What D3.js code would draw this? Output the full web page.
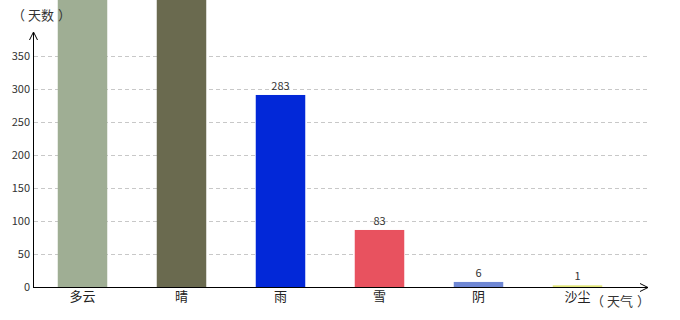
<!DOCTYPE html>
<html lang="zh">
<head>
<meta charset="UTF-8">
<title>天气天数</title>
<script src="https://cdn.jsdelivr.net/npm/d3@7"></script>
<style>
    body { margin: 0; background: #fff; }
    svg { display: block; font-family: "Noto Sans CJK SC", "DejaVu Sans", sans-serif; }
    .grid line { stroke: #c8c8c8; stroke-dasharray: 4,3; }
    .tick-label { font-size: 11px; fill: #333; }
</style>
</head>
<body>
<div id="chart"></div>
<script>
// weather categories and day counts (first two run off the top of the plot)
var categories = ['多云', '晴', '雨', '雪', '阴', '沙尘'];
var days = [1050, 980, 283, 83, 6, 1];
var barColors = ['#9fae94', '#6a6a4f', '#0228d8', '#e8525f', '#6f87d4', '#e2e67a'];
var yTicks = [0, 50, 100, 150, 200, 250, 300, 350];

var width = 680, height = 320;
var left = 33, bottom = 287, right = 648;

var svg = d3.select('#chart').append('svg')
    .attr('width', width)
    .attr('height', height);

var x = d3.scaleBand()
    .domain(categories)
    .range([left, left + 6 * 99])
    .paddingInner(0.5)
    .paddingOuter(0.25);

var y = d3.scaleLinear()
    .domain([0, 350])
    .range([bottom, 56]);

// the original draws bars a touch taller than its grid
var yBar = d3.scaleLinear()
    .domain([0, 350])
    .range([bottom - 1, bottom - 1 - 350 * 0.675]);

// grid lines
svg.append('g').attr('class', 'grid')
    .selectAll('line').data(yTicks.slice(1)).join('line')
    .attr('x1', left + 1).attr('x2', right)
    .attr('y1', d => y(d) + 0.5).attr('y2', d => y(d) + 0.5);

// y tick labels
svg.append('g').selectAll('text').data(yTicks).join('text')
    .attr('class', 'tick-label')
    .attr('x', left - 3)
    .attr('y', d => y(d))
    .attr('dy', '0.35em')
    .attr('text-anchor', 'end')
    .text(d => d);

// bars
svg.append('g').selectAll('rect').data(days).join('rect')
    .attr('x', (d, i) => x(categories[i]))
    .attr('width', x.bandwidth())
    .attr('y', d => yBar(d))
    .attr('height', d => bottom - yBar(d))
    .attr('fill', (d, i) => barColors[i]);

// value labels (the ones above the plot top are not visible)
svg.append('g').selectAll('text')
    .data(days.map((d, i) => ({v: d, c: categories[i]})).filter(d => yBar(d.v) > 20))
    .join('text')
    .attr('class', 'tick-label')
    .attr('x', d => x(d.c) + x.bandwidth() / 2)
    .attr('y', d => yBar(d.v) - 5)
    .attr('text-anchor', 'middle')
    .text(d => d.v);

// category labels
svg.append('g').selectAll('text').data(categories).join('text')
    .attr('x', d => x(d) + x.bandwidth() / 2)
    .attr('y', bottom + 14)
    .attr('text-anchor', 'middle')
    .attr('font-size', 13)
    .attr('fill', '#222')
    .text(d => d);

// axes with arrows
svg.append('line')
    .attr('x1', left + 0.5).attr('x2', left + 0.5)
    .attr('y1', bottom + 1).attr('y2', 33)
    .attr('stroke', '#000');
svg.append('path')
    .attr('d', `M${left - 3.5},${40} L${left + 0.5},${32} L${left + 4.5},${40}`)
    .attr('fill', 'none').attr('stroke', '#000');

svg.append('line')
    .attr('x1', left).attr('x2', right)
    .attr('y1', bottom + 0.5).attr('y2', bottom + 0.5)
    .attr('stroke', '#000');
svg.append('path')
    .attr('d', `M${right - 8},${bottom - 3.5} L${right},${bottom + 0.5} L${right - 8},${bottom + 4.5}`)
    .attr('fill', 'none').attr('stroke', '#000');

// axis titles, parens spaced out like the original
function title(xPos, yPos, word) {
    var t = svg.append('text')
        .attr('x', xPos).attr('y', yPos)
        .attr('font-size', 13).attr('fill', '#333');
    t.append('tspan').text('（');
    t.append('tspan').attr('dx', 3).text(word);
    t.append('tspan').attr('dx', 4).text('）');
}
title(12, 20, '天数');
title(591, 306, '天气');
</script>
</body>
</html>
